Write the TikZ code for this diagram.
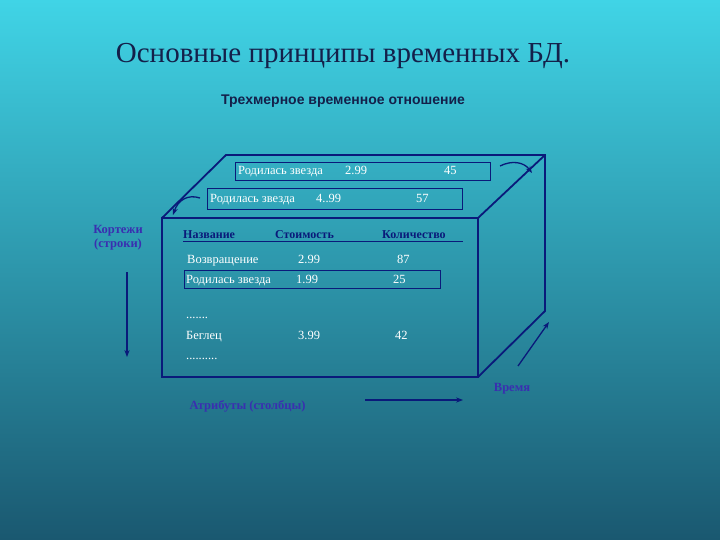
\documentclass[tikz,border=0pt]{standalone}
\usepackage{fontspec}
\setmainfont{Liberation Serif}
\newfontfamily\sansf{Liberation Sans}
\usetikzlibrary{arrows.meta}
\definecolor{navy}{HTML}{0A1A7A}
\definecolor{lab}{HTML}{3A2FB0}
\definecolor{ttl}{HTML}{14204A}
\definecolor{bgtop}{HTML}{40D4E6}
\definecolor{bgbot}{HTML}{1A5870}
\tikzset{
  edge/.style={draw=navy,line width=1.8pt,line join=miter},
  cell/.style={text=white,font=\fontsize{12.5}{13}\selectfont,inner sep=0pt,anchor=base west},
  hcell/.style={cell,text=navy,font=\bfseries\fontsize{12}{13}\selectfont},
  lbl/.style={text=lab,font=\bfseries\fontsize{12.5}{14}\selectfont,align=center},
  rowbox/.style={draw=navy,line width=0.9pt},
  arr/.style={draw=navy,line width=1.3pt,-{Stealth[length=7pt]}}
}
\begin{document}
\begin{tikzpicture}[x=1pt,y=-1pt]
\shade[top color=bgtop,bottom color=bgbot] (0,0) rectangle (720,540);
\useasboundingbox (0,0) rectangle (720,540);
\node[text=ttl,font=\fontsize{29}{31}\selectfont] (title) at (343,56) {Основные принципы временных БД.};
\node[text=ttl,font=\sansf\bfseries\fontsize{14}{16}\selectfont] (sub) at (343,101) {Трехмерное временное отношение};
% box
\coordinate (f1) at (162,218); \coordinate (f2) at (478,218);
\coordinate (f3) at (478,377); \coordinate (f4) at (162,377);
\coordinate (b1) at (226,155); \coordinate (b2) at (545,155);
\coordinate (b3) at (545,311);
\draw[edge] (f1) -- (f2) -- (f3) -- (f4) -- cycle;
\draw[edge] (f1) -- (b1) -- (b2) -- (b3) -- (f3);
\draw[edge] (f2) -- (b2);
% back rows
\node[rowbox,minimum width=255,minimum height=18,anchor=north west] (r1) at (235,162) {};
\node[cell] (r1a) at (238,175) {Родилась звезда};
\node[cell] (r1b) at (345,175) {2.99};
\node[cell] (r1c) at (444,175) {45};
\node[rowbox,minimum width=255,minimum height=21,anchor=north west] (r2) at (207,188) {};
\node[cell] (r2a) at (210,203) {Родилась звезда};
\node[cell] (r2b) at (316,203) {4..99};
\node[cell] (r2c) at (416,203) {57};
% header
\node[hcell] (h1) at (183,238) {Название};
\node[hcell] (h2) at (275,238) {Стоимость};
\node[hcell] (h3) at (382,238) {Количество};
\coordinate (u1) at (183,241); \coordinate (u2) at (463,241);
\draw[navy,line width=0.9pt] (u1) -- (u2);
\node[cell] (a1) at (187,263) {Возвращение};
\node[cell] (a2) at (298,263) {2.99};
\node[cell] (a3) at (397,263) {87};
\node[rowbox,minimum width=256,minimum height=18,anchor=north west] (r3) at (184,270) {};
\node[cell] (c1) at (186,283) {Родилась звезда};
\node[cell] (c2) at (296,283) {1.99};
\node[cell] (c3) at (393,283) {25};
\node[cell] (d1) at (186,318) {.......};
\node[cell] (e1) at (186,339) {Беглец};
\node[cell] (e2) at (298,339) {3.99};
\node[cell] (e3) at (395,339) {42};
\node[cell] (d2) at (186,359) {..........};
% labels
\node[lbl] (kort) at (118,238) {Кортежи\\(строки)};
\node[lbl,anchor=west] (attr) at (186,406) {Атрибуты (столбцы)};
\node[lbl] (time) at (512,389) {Время};
% arrows
\coordinate (k1) at (127,272); \coordinate (k2) at (127,357);
\draw[arr] (k1) -- (k2);
\coordinate (t1) at (365,400); \coordinate (t2) at (463,400);
\draw[arr] (t1) -- (t2);
\coordinate (v1) at (518,366); \coordinate (v2) at (549,322);
\draw[arr] (v1) -- (v2);
\coordinate (c1s) at (500,166); \coordinate (c1e) at (532,173);
\draw[arr] (c1s) .. controls (512,160) and (524,162) .. (c1e);
\coordinate (c2s) at (200,198); \coordinate (c2e) at (173,215);
\draw[arr] (c2s) .. controls (188,194) and (178,200) .. (c2e);
\end{tikzpicture}
\end{document}
